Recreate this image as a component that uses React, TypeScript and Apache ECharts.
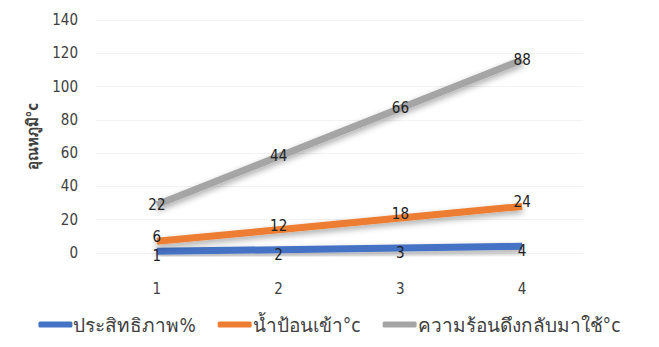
import React, { useEffect, useRef } from "react";
import * as echarts from "echarts";

const categories = ["1", "2", "3", "4"];
const efficiency = [1, 2, 3, 4];
const waterIn = [6, 12, 18, 24];
const heatRecovered = [22, 44, 66, 88];
const seriesNames = ["ประสิทธิภาพ%", "น้ำป้อนเข้า°c", "ความร้อนดึงกลับมาใช้°c"];
const colors = ["#4472C4", "#ED7D31", "#A5A5A5"];
const labelShiftY = [5, -4, 0];

const FONT = "'DejaVu Sans Condensed', 'Liberation Sans Narrow', 'Noto Sans', sans-serif";

export default function App() {
  const ref = useRef<HTMLDivElement>(null);
  useEffect(() => {
    if (!ref.current) return;
    const chart = echarts.init(ref.current, null, { renderer: "svg" });
    const datas = [efficiency, waterIn, heatRecovered];
    chart.setOption({
      animation: false,
      backgroundColor: "#ffffff",
      grid: { left: 88, right: 68, top: 12, bottom: 86 },
      legend: {
        bottom: 0,
        left: "center",
        itemWidth: 34,
        itemHeight: 6,
        itemGap: 22,
        icon: "roundRect",
        textStyle: { fontFamily: FONT, fontSize: 19, color: "#404040", padding: [0, 0, 0, -4] },
        data: seriesNames,
      },
      xAxis: {
        type: "category",
        data: categories,
        boundaryGap: true,
        axisLine: { show: false },
        axisTick: { show: false },
        axisLabel: { margin: 28, fontFamily: FONT, fontSize: 15, color: "#404040" },
      },
      yAxis: {
        type: "value",
        min: 0,
        max: 140,
        interval: 20,
        name: "อุณหภูมิ°c",
        nameLocation: "middle",
        nameGap: 56,
        nameRotate: 90,
        nameTextStyle: { fontFamily: FONT, fontSize: 15, fontWeight: "bold", color: "#404040" },
        axisLine: { show: false },
        axisTick: { show: false },
        splitLine: { lineStyle: { color: "#f2f2f2" } },
        axisLabel: { margin: 18, fontFamily: FONT, fontSize: 15, color: "#404040" },
      },
      series: datas.map((d, i) => ({
        name: seriesNames[i],
        type: "line",
        stack: "total",
        data: d,
        symbol: "circle",
        symbolSize: 0.01,
        showSymbol: true,
        color: colors[i],
        lineStyle: {
          width: 7,
          color: colors[i],
          shadowColor: "rgba(0,0,0,0.35)",
          shadowBlur: 6,
          shadowOffsetY: 3,
        },
        label: {
          show: true,
          position: "inside",
          fontFamily: FONT,
          fontSize: 15,
          lineHeight: 15,
          color: "#222",
        },
        labelLayout: { hideOverlap: false, dy: labelShiftY[i] },
        z: 2 + i,
      })),
    });
    return () => chart.dispose();
  }, []);
  return <div ref={ref} style={{ width: 643, height: 331 }} />;
}
